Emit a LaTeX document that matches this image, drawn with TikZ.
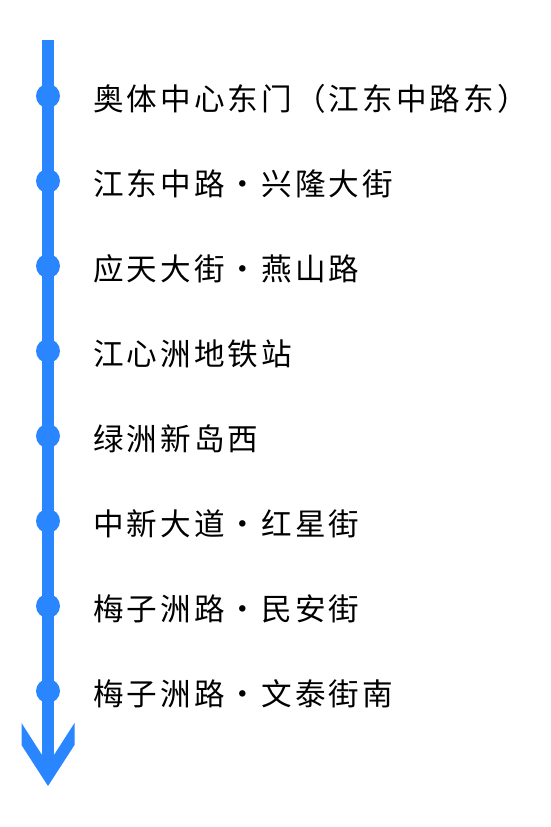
\documentclass[tikz,border=0pt]{standalone}
\usepackage{fontspec}
\newfontfamily\cjk[LetterSpace=10]{Noto Sans CJK SC}
\definecolor{lineblue}{RGB}{41,134,255}
\begin{document}
\begin{tikzpicture}[x=1pt,y=-1pt,
  stop/.style={circle,fill=lineblue,inner sep=0pt,minimum size=24pt},
  lbl/.style={anchor=west,inner sep=0pt,font=\cjk\fontsize{30.6}{31}\selectfont,text=black}]
\useasboundingbox[fill=white] (0,0) rectangle (550,827);
\coordinate (top) at (48,40);
\coordinate (bot) at (48,760);
\fill[lineblue] (42,40) rectangle (54,760);
\fill[lineblue] (42,755) -- (21.5,723) -- (21.5,745) -- (48,786) -- (74.5,745) -- (74.5,723) -- (54,755) -- cycle;
\foreach \i/\t in {0/奥体中心东门（江东中路东）,1/江东中路・兴隆大街,2/应天大街・燕山路,3/江心洲地铁站,4/绿洲新岛西,5/中新大道・红星街,6/梅子洲路・民安街,7/梅子洲路・文泰街南}{
  \node[stop] (s\i) at (48,96+85*\i) {};
  \node[lbl] (t\i) at (93,99+85*\i) {\t};
}
\end{tikzpicture}
\end{document}
